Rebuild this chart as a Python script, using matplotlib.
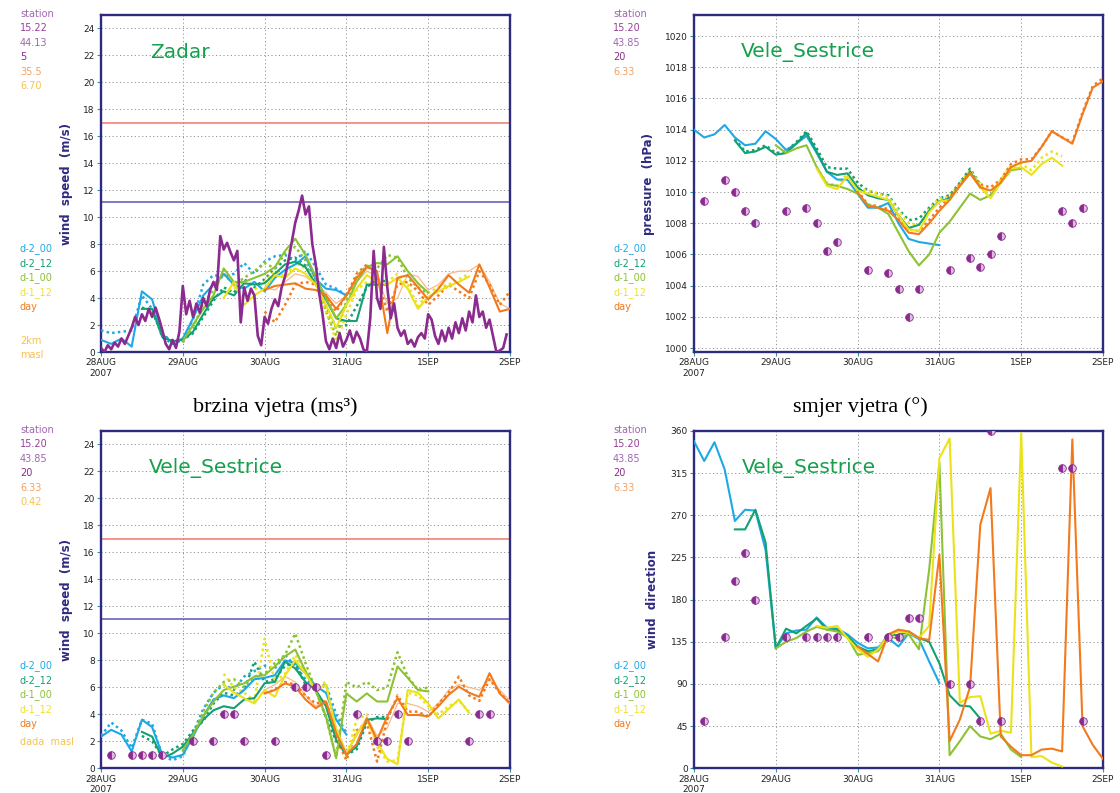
import numpy as np
import matplotlib.pyplot as plt

# ---- time axis: hours from 28AUG2007 00 UTC, model output every 3 h ----
day_labels = ['28AUG\n2007', '29AUG', '30AUG', '31AUG', '1SEP', '2SEP']
run_names = ['d-2_00', 'd-2_12', 'd-1_00', 'd-1_12', 'day']
run_start = [0, 12, 24, 36, 48]

# synoptic observation times (h) at Vele_Sestrice
obs_hours = [3, 9, 12, 15, 18, 27, 33, 36, 39, 42, 51, 57, 60, 63, 66,
             75, 81, 84, 87, 90, 108, 111, 114]

# ---- Zadar wind speed (m/s) ----
zadar_obs = [0.3, 0.0, 0.5, 0.2, 0.7, 0.4, 1.0, 0.6, 1.2, 1.8,
             2.6, 2.0, 2.8, 2.3, 3.2, 2.6, 3.3, 2.5, 1.6, 0.6,
             0.2, 0.9, 0.3, 1.5, 4.9, 2.8, 3.8, 2.6, 3.6, 2.9,
             4.0, 3.4, 4.6, 5.2, 4.6, 8.6, 7.6, 8.1, 7.4, 6.8,
             7.5, 2.2, 4.8, 3.8, 4.7, 4.2, 1.2, 0.5, 2.6, 2.1,
             3.2, 3.9, 3.4, 4.8, 5.6, 6.8, 8.2, 9.6, 10.5, 11.6,
             10.2, 10.8, 8.0, 6.5, 4.4, 2.8, 0.8, 0.2, 1.0, 0.3,
             1.4, 0.4, 0.9, 1.6, 0.7, 1.5, 1.0, 0.2, 0.0, 2.5,
             7.5, 4.0, 3.2, 7.8, 4.8, 2.5, 3.6, 1.8, 1.2, 1.6,
             0.6, 0.9, 0.4, 1.1, 1.4, 1.0, 2.8, 2.4, 1.2, 0.6,
             1.6, 0.8, 1.8, 1.0, 2.2, 1.4, 2.5, 1.6, 3.0, 2.2,
             4.2, 2.6, 3.0, 1.8, 2.4, 1.2, 0.0, 0.1, 0.3, 1.3]

zad_d200 = [0.9, 0.6, 1.0, 0.4, 4.5, 3.9, 1.3, 0.7, 1.0, 2.5, 4.2, 5.0, 5.8, 5.0, 4.7, 5.2, 4.5, 5.5, 6.1, 6.5, 7.1, 5.4, 4.7, 4.6, 4.2]
zad_d212 = [3.2, 3.2, 1.1, 0.8, 0.9, 1.5, 2.8, 4.0, 4.5, 4.2, 5.1, 5.0, 5.1, 5.8, 6.5, 6.7, 6.3, 5.0, 3.9, 2.5, 2.3, 2.3, 5.0, 5.0, 5.0]
zad_d100 = [0.8, 2.0, 3.2, 4.2, 6.2, 5.2, 5.2, 5.5, 5.8, 6.3, 7.5, 8.4, 7.2, 5.6, 4.0, 2.5, 3.5, 5.2, 6.3, 6.6, 6.5, 7.1, 6.0, 5.1, 4.4]
zad_d112 = [4.0, 5.2, 3.5, 4.2, 4.7, 5.7, 5.5, 6.2, 5.8, 5.0, 3.5, 1.8, 3.5, 4.7, 5.7, 5.2, 5.0, 5.5, 4.7, 3.2, 4.1, 4.5, 4.9, 5.2, 5.6]
zad_day = [4.6, 4.9, 5.0, 5.1, 4.7, 4.6, 4.2, 3.2, 4.2, 5.5, 6.3, 6.0, 1.4, 5.5, 5.7, 4.8, 3.9, 4.7, 5.7, 5.0, 4.4, 6.5, 4.8, 3.0, 3.2]

zad_d200_b = [1.6, 1.4, 1.5, 1.6, 4.2, 3.2, 1.1, 0.6, 0.9, 2.4, 5.0, 5.7, 5.6, 5.8, 6.6, 5.8, 6.7, 7.1, 7.2, 6.8, 7.5, 6.3, 5.0, 4.7, 4.2]
zad_d212_b = [3.3, 3.0, 1.3, 0.8, 0.9, 1.4, 2.6, 3.8, 4.8, 4.4, 5.4, 4.8, 5.4, 6.2, 6.8, 7.0, 6.4, 5.2, 3.4, 1.8, 2.0, 3.4, 4.8, 5.4, 5.2]
zad_d100_b = [0.7, 1.8, 3.6, 4.6, 5.8, 5.0, 5.5, 6.0, 6.6, 6.2, 7.3, 7.8, 6.8, 5.2, 3.0, 1.2, 3.8, 5.6, 6.4, 6.2, 7.2, 7.0, 5.5, 4.8, 4.3]
zad_d112_b = [4.4, 4.8, 4.0, 4.6, 5.2, 6.0, 5.6, 6.6, 6.2, 5.4, 3.0, 0.8, 2.8, 4.6, 5.2, 5.0, 5.2, 5.8, 5.0, 3.4, 4.4, 4.8, 5.0, 5.4, 5.8]
zad_day_b = [3.0, 2.2, 3.5, 5.0, 5.2, 5.0, 4.2, 3.0, 4.2, 5.8, 6.5, 5.5, 3.0, 5.0, 5.2, 4.5, 3.5, 4.2, 5.0, 4.5, 4.0, 6.0, 5.0, 3.5, 4.5]
zad_day_c = [4.8, 4.6, 5.2, 5.8, 5.6, 5.0, 4.4, 3.6, 4.2, 5.2, 6.0, 5.6, 3.6, 4.0, 5.8, 5.6, 4.6, 5.0, 5.8, 6.0, 6.0, 6.5, 5.2, 3.6, 3.2]

# ---- Vele_Sestrice pressure (hPa) ----
pres_obs = [1009.4, 1010.8, 1010.0, 1008.8, 1008.0, 1008.8, 1009.0, 1008.0, 1006.2, 1006.8, 1005.0, 1004.8,
            1003.8, 1002.0, 1003.8, 1005.0, 1005.8, 1005.2, 1006.0, 1007.2, 1008.8, 1008.0, 1009.0]
pres_d200 = [1014.0, 1013.5, 1013.7, 1014.3, 1013.5, 1013.0, 1013.1, 1013.9, 1013.4, 1012.7, 1013.1, 1013.6, 1012.5,
             1011.3, 1010.8, 1010.8, 1009.9, 1009.0, 1009.0, 1009.3, 1008.0, 1007.0, 1006.8, 1006.7, 1006.6]
pres_d212 = [1013.3, 1012.5, 1012.6, 1012.9, 1012.4, 1012.5, 1013.1, 1013.8, 1012.6, 1011.3, 1011.1, 1011.2, 1010.3,
             1009.8, 1009.6, 1009.5, 1008.5, 1007.7, 1007.9, 1008.8, 1009.4, 1009.6, 1010.4, 1011.3, 1010.3]
pres_d100 = [1013.0, 1012.5, 1012.8, 1013.0, 1011.6, 1010.5, 1010.4, 1010.2, 1009.9, 1009.2, 1009.0, 1008.6, 1007.4,
             1006.2, 1005.3, 1006.0, 1007.4, 1008.1, 1009.0, 1009.9, 1009.5, 1009.8, 1010.6, 1011.4, 1011.5]
pres_d112 = [1011.5, 1010.4, 1010.2, 1011.0, 1010.1, 1009.9, 1009.7, 1009.5, 1008.5, 1007.6, 1007.5, 1008.7, 1009.4,
             1009.5, 1010.4, 1011.2, 1010.3, 1009.6, 1010.6, 1011.5, 1011.6, 1011.1, 1011.8, 1012.2, 1011.7]
pres_day = [1010.0, 1009.1, 1009.0, 1008.8, 1008.2, 1007.4, 1007.3, 1008.0, 1008.8, 1009.5, 1010.4, 1011.2, 1010.3,
            1010.1, 1010.6, 1011.6, 1011.9, 1012.0, 1012.9, 1013.9, 1013.5, 1013.1, 1015.0, 1016.7, 1017.1]
pres_d212_b = [1013.4, 1012.6, 1012.7, 1013.0, 1012.5, 1012.6, 1013.2, 1013.9, 1012.8, 1011.6, 1011.5, 1011.5, 1010.6,
               1010.1, 1009.9, 1009.8, 1008.9, 1008.2, 1008.3, 1009.0, 1009.6, 1009.8, 1010.6, 1011.5, 1010.5]
pres_d112_b = [1011.6, 1010.6, 1010.4, 1011.2, 1010.3, 1010.1, 1009.9, 1009.7, 1008.8, 1008.0, 1007.9, 1008.9, 1009.6,
               1009.7, 1010.6, 1011.4, 1010.5, 1009.8, 1010.8, 1011.7, 1011.8, 1011.4, 1012.2, 1012.6, 1012.3]
pres_day_b = [1010.1, 1009.2, 1009.1, 1008.9, 1008.4, 1007.6, 1007.5, 1008.2, 1009.0, 1009.7, 1010.5, 1011.3, 1010.5,
              1010.3, 1010.8, 1011.8, 1012.1, 1012.1, 1012.9, 1013.9, 1013.5, 1013.2, 1015.1, 1016.8, 1017.3]

# ---- Vele_Sestrice wind speed (m/s) ----
ves_obs = [1, 1, 1, 1, 1, 2, 2, 4, 4, 2, 2, 6, 6, 6, 1, 4, 2, 2, 4, 2, 2, 4, 4]
ves_d200 = [2.35, 2.85, 2.5, 1.25, 3.6, 3.05, 1.0, 0.8, 1.0, 2.35, 3.85, 5.1, 5.4, 5.2, 5.8, 6.6, 6.7, 6.9, 8.0, 7.8, 7.05, 6.1, 5.6, 3.6, 2.5]
ves_d212 = [2.7, 2.35, 0.75, 1.1, 1.6, 2.6, 3.6, 4.3, 4.6, 4.45, 5.1, 5.2, 6.3, 6.4, 7.9, 7.4, 6.4, 5.8, 4.6, 2.1, 1.0, 1.6, 3.6, 3.7, 3.65]
ves_d100 = [1.35, 2.5, 3.85, 4.95, 5.8, 6.05, 6.3, 6.8, 6.9, 7.55, 8.3, 8.8, 7.2, 5.8, 3.85, 0.75, 5.55, 4.95, 5.55, 4.95, 4.95, 7.55, 6.7, 5.8, 5.7]
ves_d112 = [6.2, 5.6, 5.2, 4.8, 5.8, 5.3, 6.9, 8.0, 7.0, 5.8, 6.2, 2.9, 1.0, 2.6, 3.6, 1.9, 0.7, 0.3, 5.8, 5.6, 4.8, 3.7, 4.4, 5.1, 4.1]
ves_day = [5.55, 5.8, 6.3, 6.05, 5.1, 4.45, 4.95, 2.6, 1.0, 1.8, 3.7, 2.1, 3.85, 5.2, 3.95, 3.95, 3.85, 4.6, 5.45, 6.05, 5.6, 5.3, 7.05, 5.55, 4.8]

ves_d200_b = [2.4, 3.4, 2.8, 1.5, 3.6, 3.3, 0.9, 0.6, 0.9, 2.6, 4.4, 5.6, 6.2, 5.8, 6.8, 7.2, 7.6, 7.4, 8.4, 7.6, 6.6, 6.0, 6.2, 4.0, 2.6]
ves_d212_b = [2.4, 2.0, 0.9, 1.4, 1.8, 2.8, 3.5, 4.8, 5.6, 5.4, 5.8, 7.9, 6.4, 6.6, 7.6, 7.8, 6.2, 5.8, 3.8, 2.0, 1.0, 1.4, 3.4, 3.8, 3.8]
ves_d100_b = [1.2, 2.4, 4.2, 5.6, 6.4, 6.6, 6.0, 6.8, 7.0, 7.8, 8.4, 10.0, 7.8, 5.8, 3.8, 0.8, 6.4, 6.0, 6.4, 5.8, 6.0, 8.6, 6.8, 5.8, 6.0]
ves_d112_b = [7.0, 6.0, 5.6, 5.0, 9.6, 6.4, 7.0, 8.4, 7.2, 6.0, 6.4, 2.4, 0.8, 3.6, 4.0, 1.6, 0.5, 0.6, 5.6, 5.4, 4.6, 4.0, 4.6, 5.0, 4.2]
ves_day_b = [5.6, 5.8, 6.4, 6.2, 5.4, 4.8, 5.0, 2.2, 0.6, 2.8, 3.4, 0.5, 3.6, 5.4, 4.2, 4.2, 3.8, 4.8, 5.6, 6.8, 5.4, 5.0, 6.6, 5.6, 4.8]
ves_day_c = [5.8, 6.2, 6.8, 6.4, 5.4, 4.6, 5.0, 3.0, 1.2, 2.4, 3.8, 2.4, 3.0, 4.8, 4.8, 4.6, 4.2, 4.8, 5.8, 6.2, 6.0, 5.8, 6.6, 5.8, 5.0]

# ---- Vele_Sestrice wind direction (deg) ----
dir_obs = [50, 140, 200, 230, 180, 140, 140, 140, 140, 140, 140, 140,
           140, 160, 160, 90, 90, 50, 360, 50, 320, 320, 50]
dir_d200 = [349, 328, 348, 319, 264, 276, 275, 233, 128, 144, 147, 148, 161, 150, 149, 143, 134, 128, 129, 139, 130, 144, 138, 114, 91]
dir_d212 = [255, 255, 276, 241, 128, 149, 144, 152, 160, 148, 148, 141, 130, 125, 127, 143, 142, 146, 139, 135, 112, 78, 67, 66, 53]
dir_d100 = [128, 135, 139, 146, 151, 148, 146, 140, 121, 123, 125, 140, 139, 143, 127, 212, 326, 14, 29, 45, 34, 31, 37, 20, 12]
dir_d112 = [152, 150, 152, 139, 127, 119, 127, 142, 146, 145, 139, 152, 331, 352, 70, 76, 77, 37, 40, 38, 358, 12, 13, 6, 2]
dir_day = [130, 122, 114, 143, 148, 146, 139, 137, 228, 29, 52, 87, 260, 299, 34, 23, 14, 14, 20, 21, 18, 351, 45, 25, 10]

# ---- colours ----
run_col = ['#1ea8e6', '#13a072', '#8cc233', '#ebe21a', '#f27a1c']
run_col_light = ['#8fd4f2', '#86d0b4', '#c4e19a', '#f6f08c', '#f8b98a']
st_col = '#8b2a8f'
navy = '#2e2a80'
green_name = '#15a04c'

W, H = 1120, 793
fig = plt.figure(figsize=(W / 100, H / 100), dpi=100)


def box(x0, y_top, y_bot, w=409):
    return [x0 / W, 1 - y_bot / H, w / W, (y_bot - y_top) / H]


ax1 = fig.add_axes(box(101, 15, 352))
ax2 = fig.add_axes(box(694, 15, 352))
ax3 = fig.add_axes(box(101, 431, 768.3))
ax4 = fig.add_axes(box(694, 431, 768.3))


def hours(k, n):
    return run_start[k] + 3 * np.arange(n)


def draw_runs(ax, solid, dotted=(), thin=()):
    # thin, lighter companion lines first, then dotted, then the main runs
    for k, vals in thin:
        ax.plot(hours(k, len(vals)), vals, color=run_col_light[k], lw=0.9, zorder=3)
    for k, vals in dotted:
        ax.plot(hours(k, len(vals)), vals, color=run_col[k], lw=1.8, ls=(0, (1, 1.3)), zorder=4)
    for k, vals in enumerate(solid):
        ax.plot(hours(k, len(vals)), vals, color=run_col[k], lw=1.5, zorder=5)


def stations(ax, vals):
    ax.plot(obs_hours, vals, ls='none', marker='o', ms=5.5, color=st_col,
            mfc=st_col, mfcalt='#dcbde0', fillstyle='left', mec=st_col, mew=0.6,
            zorder=6)


def style(ax, yticks, ylim, ylabel, lab_x):
    ax.set_xlim(0, 120)
    ax.set_ylim(*ylim)
    ax.set_xticks(np.arange(0, 121, 24))
    ax.set_xticklabels(day_labels)
    ax.set_yticks(yticks)
    ax.grid(True, ls=(0, (1.2, 2.6)), color='#939393', lw=0.7)
    ax.set_axisbelow(True)
    for s in ax.spines.values():
        s.set_color(navy)
        s.set_linewidth(1.7)
    ax.tick_params(axis='both', length=3, width=0.8, color='#2c9aa6',
                   labelsize=6.5, labelcolor='#222222', pad=1.5)
    for lab in ax.get_xticklabels() + ax.get_yticklabels():
        lab.set_family(['Liberation Sans Narrow', 'DejaVu Sans'])
    ax.set_ylabel(ylabel, color=navy, fontsize=8.5, fontweight='bold')
    ax.yaxis.set_label_coords(lab_x, 0.5)


# Zadar wind speed
ax1.axhline(17, color='#f07a6a', lw=1.1, zorder=2)
ax1.axhline(11.1, color='#5a55b5', lw=1.1, zorder=2)
draw_runs(ax1, [zad_d200, zad_d212, zad_d100, zad_d112, zad_day],
          dotted=[(0, zad_d200_b), (1, zad_d212_b), (2, zad_d100_b), (3, zad_d112_b), (4, zad_day_b)],
          thin=[(4, zad_day_c)])
ax1.plot(np.arange(len(zadar_obs)), zadar_obs, color=st_col, lw=1.9, zorder=5.5)
style(ax1, np.arange(0, 25, 2), (0, 25), 'wind  speed  (m/s)', -0.069)
ax1.text(0.12, 0.89, 'Zadar', transform=ax1.transAxes, color=green_name, fontsize=14.5, va='center')

# Vele_Sestrice pressure
draw_runs(ax2, [pres_d200, pres_d212, pres_d100, pres_d112, pres_day],
          dotted=[(1, pres_d212_b), (3, pres_d112_b), (4, pres_day_b)])
stations(ax2, pres_obs)
style(ax2, np.arange(1000, 1021, 2), (999.75, 1021.35), 'pressure  (hPa)', -0.095)
ax2.text(0.115, 0.89, 'Vele_Sestrice', transform=ax2.transAxes, color=green_name, fontsize=14.5, va='center')

# Vele_Sestrice wind speed
ax3.axhline(17, color='#f07a6a', lw=1.1, zorder=2)
ax3.axhline(11.1, color='#5a55b5', lw=1.1, zorder=2)
draw_runs(ax3, [ves_d200, ves_d212, ves_d100, ves_d112, ves_day],
          dotted=[(0, ves_d200_b), (1, ves_d212_b), (2, ves_d100_b), (3, ves_d112_b), (4, ves_day_b)],
          thin=[(4, ves_day_c)])
stations(ax3, ves_obs)
style(ax3, np.arange(0, 25, 2), (0, 25), 'wind  speed  (m/s)', -0.069)
ax3.text(0.117, 0.89, 'Vele_Sestrice', transform=ax3.transAxes, color=green_name, fontsize=14.5, va='center')

# Vele_Sestrice wind direction
draw_runs(ax4, [dir_d200, dir_d212, dir_d100, dir_d112, dir_day])
stations(ax4, dir_obs)
style(ax4, np.arange(0, 361, 45), (0, 360), 'wind  direction', -0.086)
ax4.text(0.117, 0.89, 'Vele_Sestrice', transform=ax4.transAxes, color=green_name, fontsize=14.5, va='center')


# side annotations (station info and run names)
def side(x, y, s, c):
    fig.text(x / W, 1 - y / H, s, color=c, fontsize=7, va='center', ha='left')


purple_l = '#a066b0'
orange_l = '#f5a060'
gold_l = '#f8c24a'
info = [
    (20, 14, [('station', purple_l), ('15.22', '#9a3f9c'), ('44.13', purple_l), ('5', st_col),
              ('35.5', orange_l), ('6.70', gold_l)]),
    (613, 14, [('station', purple_l), ('15.20', '#9a3f9c'), ('43.85', purple_l), ('20', st_col),
               ('6.33', orange_l)]),
    (20, 430, [('station', purple_l), ('15.20', '#9a3f9c'), ('43.85', purple_l), ('20', st_col),
               ('6.33', orange_l), ('0.42', gold_l)]),
    (613, 430, [('station', purple_l), ('15.20', '#9a3f9c'), ('43.85', purple_l), ('20', st_col),
                ('6.33', orange_l)]),
]
for x, y0, rows in info:
    for j, (s, c) in enumerate(rows):
        side(x, y0 + 14.4 * j, s, c)

for x, y0 in [(20, 249), (613, 249), (20, 666), (613, 666)]:
    for j, name in enumerate(run_names):
        side(x, y0 + 14.4 * j, name, run_col[j] if j != 3 else '#f0e030')

side(20, 341, '2km', gold_l)
side(20, 355, 'masl', gold_l)
side(20, 742, 'dada  masl', gold_l)

fig.text(275 / W, 1 - 407 / H, 'brzina vjetra (ms³)', family='Liberation Serif',
         fontsize=16, ha='center', va='center')
fig.text(860 / W, 1 - 407 / H, 'smjer vjetra (°)', family='Liberation Serif',
         fontsize=16, ha='center', va='center')

fig.savefig('out.png', dpi=100)
